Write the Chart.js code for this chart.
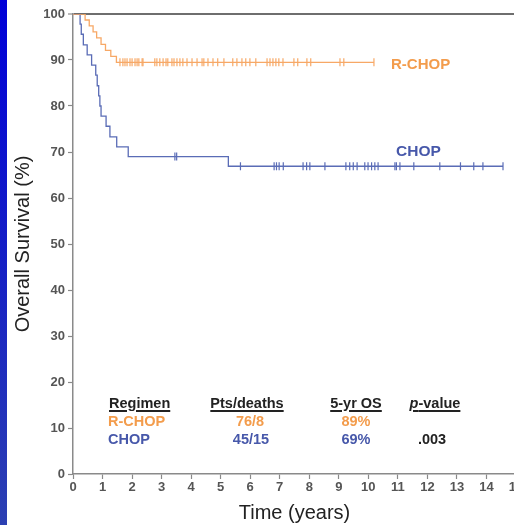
<!DOCTYPE html>
<html>
<head>
<meta charset="utf-8">
<script src="https://cdn.jsdelivr.net/npm/chart.js@4"></script>
<style>
  html, body { margin: 0; padding: 0; background: #fff; overflow: hidden; }
  body { width: 514px; height: 525px; position: relative; font-family: "Liberation Sans", Arial, sans-serif; }
  #wrap { position: absolute; left: 0; top: 0; width: 528px; height: 525px; }
  #strip { position: absolute; left: 0; top: 0; width: 7px; height: 525px; z-index: 3;
           background: linear-gradient(to bottom, #0000d8, #2c40b2); }
  .lbl { position: absolute; z-index: 2; white-space: nowrap; font-weight: bold; }
  .hd { color: #222; text-decoration: underline; text-decoration-thickness: 1.5px; text-underline-offset: 2px; }
  .or { color: #f39c4c; }
  .bl { color: #4758aa; }
  .dk { color: #222; }
</style>
</head>
<body>
<div id="strip"></div>
<div id="wrap"><canvas id="km" width="528" height="525"></canvas></div>

<div class="lbl or" style="left:391px; top:63px; transform:translateY(-50%); font-size:15px;">R-CHOP</div>
<div class="lbl bl" style="left:396px; top:151px; transform:translateY(-50%); font-size:15.5px;">CHOP</div>

<div class="lbl hd" style="left:109px; top:403px; transform:translateY(-50%); font-size:14.5px;">Regimen</div>
<div class="lbl hd" style="left:247px; top:403px; transform:translate(-50%,-50%); font-size:14.5px;">Pts/deaths</div>
<div class="lbl hd" style="left:356px; top:403px; transform:translate(-50%,-50%); font-size:14.5px;">5-yr OS</div>
<div class="lbl hd" style="left:435px; top:403px; transform:translate(-50%,-50%); font-size:14.5px;"><i>p</i>-value</div>

<div class="lbl or" style="left:108px; top:421px; transform:translateY(-50%); font-size:14.5px;">R-CHOP</div>
<div class="lbl or" style="left:250px; top:421px; transform:translate(-50%,-50%); font-size:14.5px;">76/8</div>
<div class="lbl or" style="left:356px; top:421px; transform:translate(-50%,-50%); font-size:14.5px;">89%</div>

<div class="lbl bl" style="left:108px; top:439px; transform:translateY(-50%); font-size:14.5px;">CHOP</div>
<div class="lbl bl" style="left:251px; top:439px; transform:translate(-50%,-50%); font-size:14.5px;">45/15</div>
<div class="lbl bl" style="left:356px; top:439px; transform:translate(-50%,-50%); font-size:14.5px;">69%</div>
<div class="lbl dk" style="left:432px; top:439px; transform:translate(-50%,-50%); font-size:14.5px;">.003</div>

<script>
/* ---------- data (years, overall survival %) ---------- */

const rchopTimes = [0, 0.41, 0.55, 0.68, 0.80, 0.95, 1.10, 1.28, 1.47, 10.19];
const rchopSurv = [100, 98.7, 97.4, 96.1, 94.8, 93.4, 92.1, 90.8, 89.5, 89.5];

const chopTimes = [0, 0.24, 0.28, 0.35, 0.48, 0.63, 0.77, 0.82, 0.87, 0.91, 0.95, 1.12, 1.25, 1.48, 1.87, 5.26, 14.56];
const chopSurv = [100, 97.8, 95.6, 93.3, 91.1, 88.9, 86.7, 84.4, 82.2, 80.0, 77.8, 75.6, 73.3, 71.1, 69.0, 66.9, 66.9];

const rchopCensored = [1.59, 1.69, 1.76, 1.83, 1.93, 2.00, 2.10, 2.17, 2.23, 2.34, 2.37,
    2.77, 2.84, 2.94, 3.05, 3.15, 3.21, 3.35, 3.42, 3.52, 3.62, 3.72, 3.86, 4.03,
    4.20, 4.37, 4.43, 4.57, 4.74, 4.90, 5.11, 5.41, 5.55, 5.72, 5.85, 5.99, 6.19,
    6.57, 6.67, 6.77, 6.87, 6.97, 7.11, 7.48, 7.61, 7.92, 8.05, 9.04, 9.17, 10.19];

const chopCensored = [3.45, 3.51, 5.67, 6.81, 6.89, 6.98, 7.12, 7.79, 7.91, 8.02, 8.53,
    9.24, 9.37, 9.49, 9.62, 9.88, 9.99, 10.11, 10.22, 10.33, 10.90, 10.95, 11.07,
    11.54, 12.42, 13.12, 13.57, 13.88, 14.56];

const yTicks = [0, 10, 20, 30, 40, 50, 60, 70, 80, 90, 100];

/* ---------- helpers ---------- */

const ORANGE = "#f7a866";
const BLUE = "#5a6cb6";
const AXIS = "#8a8a8a";

function toPoints(times, surv) {
    return times.map((t, i) => ({ x: t, y: surv[i] }));
}

// survival level in force at time t (step function lookup)
function levelAt(times, surv, t) {
    let v = surv[0];
    for (let i = 0; i < times.length; i++) {
        if (times[i] <= t) v = surv[i];
    }
    return v;
}

function censorPoints(censored, times, surv) {
    return censored.map(t => ({ x: t, y: levelAt(times, surv, t) }));
}

function censorSet(label, data, color) {
    return {
        label,
        data,
        showLine: false,
        pointStyle: "line",
        rotation: 90,
        pointRadius: 4,
        pointBorderWidth: 1.2,
        pointBorderColor: color,
        pointBackgroundColor: color
    };
}

const tickFont = { family: "'Liberation Sans', Arial, sans-serif", size: 13, weight: "bold" };
const titleFont = { family: "'Liberation Sans', Arial, sans-serif", size: 20 };

/* ---------- chart ---------- */

new Chart(document.getElementById("km"), {

    type: "scatter",

    data: {
        datasets: [
            {
                label: "R-CHOP",
                data: toPoints(rchopTimes, rchopSurv),
                showLine: true,
                stepped: true,
                borderColor: ORANGE,
                borderWidth: 1.3,
                pointRadius: 0
            },
            {
                label: "CHOP",
                data: toPoints(chopTimes, chopSurv),
                showLine: true,
                stepped: true,
                borderColor: BLUE,
                borderWidth: 1.3,
                pointRadius: 0
            },
            censorSet("R-CHOP censored", censorPoints(rchopCensored, rchopTimes, rchopSurv), ORANGE),
            censorSet("CHOP censored", censorPoints(chopCensored, chopTimes, chopSurv), BLUE)
        ]
    },

    options: {
        responsive: false,
        animation: false,
        layout: { padding: { left: 0, top: 14, right: 12, bottom: 0 } },
        plugins: {
            legend: { display: false },
            tooltip: { enabled: false }
        },
        scales: {
            x: {
                type: "linear",
                min: 0,
                max: 15,
                ticks: { stepSize: 1, color: "#555", font: tickFont, padding: 1, maxRotation: 0 },
                grid: { drawOnChartArea: false, tickLength: 5, tickColor: AXIS, tickWidth: 1.2 },
                border: { color: AXIS, width: 1.5 },
                title: { display: true, text: "Time (years)", color: "#222", font: titleFont, padding: { top: 0, bottom: 0 } },
                afterFit: scale => { scale.height = 51; }
            },
            y: {
                min: 0,
                max: 100,
                afterBuildTicks: scale => { scale.ticks = yTicks.map(v => ({ value: v })); },
                ticks: { color: "#555", font: tickFont, padding: 3 },
                grid: {
                    color: ctx => ctx.tick && ctx.tick.value === 100 ? "#6e6e6e" : "rgba(0,0,0,0)",
                    lineWidth: ctx => ctx.tick && ctx.tick.value === 100 ? 2 : 1,
                    tickColor: AXIS,
                    tickLength: 5,
                    tickWidth: 1.2
                },
                border: { color: AXIS, width: 1.5 },
                title: { display: true, text: "Overall Survival (%)", color: "#222", font: titleFont, padding: { top: 11, bottom: 0 } },
                afterFit: scale => { scale.width = 73; }
            }
        }
    }

});
</script>
</body>
</html>
